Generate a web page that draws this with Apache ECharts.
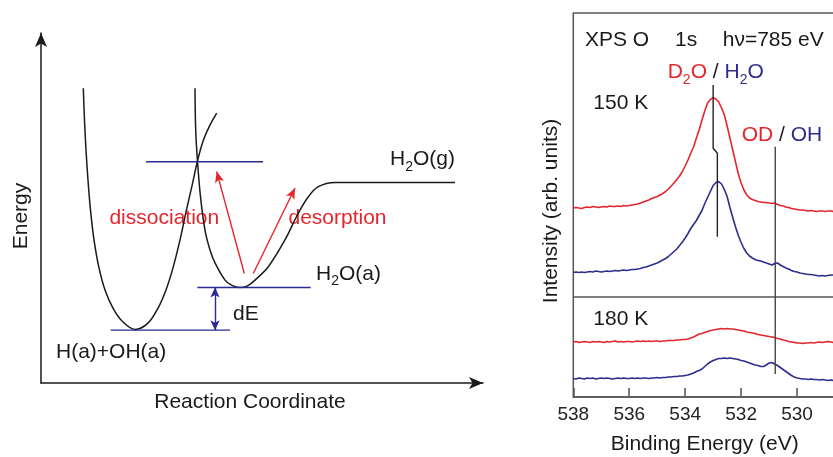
<!DOCTYPE html>
<html><head><meta charset="utf-8">
<script src="https://cdn.jsdelivr.net/npm/echarts@6/dist/echarts.min.js"></script>
<style>html,body{margin:0;padding:0;background:#fff}#c{width:833px;height:457px}</style>
</head><body><div id="c"></div>
<script>
// ---------- Left panel: potential energy diagram (reaction coordinate 0-100, energy 0-100) ----------
const dissocCurve = [[9.57,84.2],[9.84,75.1],[10.18,66.6],[10.63,58.0],[11.20,49.4],[11.99,40.9],[13.12,32.9],[14.48,26.6],[16.29,21.4],[18.33,17.7],[21.27,15.3],[24.21,17.1],[26.47,21.4],[28.28,26.6],[29.86,32.9],[31.45,40.9],[32.81,48.9],[34.16,56.3],[35.36,63.2],[36.65,69.1],[38.12,73.4],[39.75,77.1]];
const molecCurve = [[34.84,84.2],[35.00,72.3],[35.41,63.2],[36.09,53.2],[37.10,43.7],[38.24,38.0],[39.37,34.3],[41.63,29.4],[43.21,27.9],[45.02,27.3],[46.61,27.7],[48.42,29.4],[51.43,33.2],[55.20,40.9],[58.21,48.5],[60.48,53.2],[62.74,56.1],[66.52,57.3],[70.29,57.3],[93.67,57.3]];
const levelTS = [[23.76,63.2],[50.23,63.2]];
const levelH2Oa = [[35.36,27.3],[61.02,27.3]];
const levelOH = [[15.77,15.1],[42.76,15.1]];
const arrowDE = [[39.37,27.3],[39.37,15.1]];
const arrowDissoc = [[46.0,31.3],[39.75,60.4]];
const arrowDesorb = [[48.03,31.3],[57.47,55.7]];

// ---------- Right panel: XPS O 1s spectra ----------
const energies = []; for (let i = 0; i <= 100; i++) energies.push(+(538 - i * 0.1).toFixed(1));
const xTicks = [538, 536, 534, 532, 530];
const red150 = [
0,0.5,0,-0.5,0.5,1,0.5,1.5,1,0.5,
1,1.5,1,2,1.5,1.5,2,1.5,2.5,2,
2.5,3,3.5,4,5,6,7,8,9.5,10.5,
11.5,13,14.5,16.5,19,22,25,28.5,32,36.5,
42,48,55,61,70,78,88,97,105,108.5,
110.3,109,106,100,93,82,70,58,46,34,
25,18,13,10,8.5,7.5,6.5,6,5.5,5.5,
5,4.5,5,3.5,2.5,2,1,0.5,-0.5,-1,
-1.5,-2,-2,-2.5,-3,-2.5,-3,-3.5,-3,-3,
-3.5,-3,-3,-3.5,-3,-3,-3.5,-3,-3,-3.5,
-3];
const blue150 = [
0,0.5,0,0.5,0,0.5,1,0.5,1.5,1,
0.5,1,1.5,1,1.5,2,1.5,2,2.5,2,
2.5,3,3,3.5,4,5,5.5,6.5,7.5,8.5,
9.5,11,12.5,14,16,18.5,21,23.5,27,30.5,
34.5,39,44,48,52,57,62,69,75,81,
87,90,90.8,88.5,83,76,65,55,45.5,37,
30,24,19.5,16.5,14.5,13,12,11.5,10.5,9.5,
8.5,7.5,9,9.5,7.5,6,4.5,3.5,2,1,
0.5,-0.5,-1,-1.5,-2,-2,-2.5,-3,-3.5,-3,
-3.5,-3,-2.5,-2.5,-3,-2.5,-3,-2.5,-3,-2.5,
-3];
const red180 = [
0,0.5,-0.5,0,0.5,0,-0.5,0.5,0,0.5,
0,-0.5,0.5,0,0.5,1,0,0.5,0,0.5,
0.5,0,0.5,1,0.5,1,0.5,1,0.5,1,
1,0.5,1,1,1.5,1.5,1.5,2,2,2.5,
2.5,3,4,5,6.5,8,8.5,9.5,10.5,11.5,
12,12.5,13,13.5,13,13.5,13,13,12.5,12,
11.5,11,10,9.5,9,8.5,7.5,7,6.5,6,
5.5,5,4.5,3.5,3,2,1.5,0.5,0,-0.5,
-1,-1,-1.5,-1,-1,-0.5,-1,-0.5,0,-0.5,
0,0.5,0,-0.5,0,0.5,0,-0.5,0,0.5,
0];
const blue180 = [
0,-0.5,0.5,0,-0.5,0.5,0,0.5,-0.5,0,
0.5,0,0.5,0,-0.5,0,0.5,0,0.5,0,
0,0.5,0,0.5,0,0.5,0.5,0,0.5,0.5,
1,0.5,1,1,1.5,1.5,2,2,2.5,2.5,
3,3.5,4.5,5.5,7,8,9.5,12,14.5,16.5,
18,19,20,20,20.5,20,20.5,20,19.5,19,
18,17.5,16.5,15.5,14.5,13.5,13,12,12,13.5,
15.5,16,14.5,13,11,9,7,5,3,1.5,
0.5,0,-0.5,-0.5,-1,-0.5,-1,-1,-1.5,-1,
-1.5,-2,-1.5,-2,-2.5,-2,-2,-2.5,-2,-2.5,
-2];
const spectrumOffsets = {red150: 189, blue150: 124.5, red180: 55, blue180: 18.5};
const markerMol = [[533.0,312],[533.0,248.7],[532.85,243.7],[532.85,160.3]];
const markerOH = [[530.78,250.3],[530.78,23]];
const panelDivider = [[528,100],[538,100]];

const RED = '#e4262c', BLUE = '#2d2d8e', NAVY = '#2a2a92', BLACK = '#1a1a1a';
const FF = '"Liberation Sans", Arial, Helvetica, sans-serif';

const toXY = (vals, off) => energies.map((e, i) => [e, vals[i] + off]);

const chart = echarts.init(document.getElementById('c'), null, {renderer: 'canvas'});

function sub(color) {
  return {
    n: {fontSize: 21, fontFamily: FF, fill: color, lineHeight: 22, padding: [0,0,4,0], verticalAlign: 'bottom'},
    s: {fontSize: 14, fontFamily: FF, fill: color, lineHeight: 14, verticalAlign: 'bottom'}
  };
}
function txt(x, y, text, opts) {
  opts = opts || {};
  return {
    type: 'text', x: x, y: y, rotation: opts.rotation || 0, silent: true,
    style: {
      text: text, fill: opts.fill || '#1a1a1a',
      font: (opts.size || 21) + 'px ' + FF,
      textAlign: opts.align || 'left', textVerticalAlign: 'middle',
      rich: opts.rich
    }
  };
}
const richColored = {
  r: {fontSize: 21, fontFamily: FF, fill: RED, lineHeight: 22, padding: [0,0,4,0], verticalAlign: 'bottom'},
  rs: {fontSize: 14, fontFamily: FF, fill: RED, lineHeight: 14, verticalAlign: 'bottom'},
  b: {fontSize: 21, fontFamily: FF, fill: BLUE, lineHeight: 22, padding: [0,0,4,0], verticalAlign: 'bottom'},
  bs: {fontSize: 14, fontFamily: FF, fill: BLUE, lineHeight: 14, verticalAlign: 'bottom'},
  k: {fontSize: 21, fontFamily: FF, fill: '#1a1a1a', lineHeight: 22, padding: [0,0,4,0], verticalAlign: 'bottom'}
};

const hiddenAxisBase = {axisTick: {show: false}, axisLabel: {show: false}, splitLine: {show: false}};

const option = {
  animation: false,
  backgroundColor: '#fff',
  grid: [
    {left: 41, top: 33, width: 442, height: 350, outerBoundsMode: 'none', containLabel: false},
    {left: 573.3, top: 13, width: 279.7, height: 384, show: true, borderColor: '#555', borderWidth: 1.5,
      outerBoundsMode: 'none', containLabel: false}
  ],
  xAxis: [
    Object.assign({type: 'value', gridIndex: 0, min: 0, max: 100,
      axisLine: {show: true, onZero: false, symbol: ['none', 'arrow'], symbolSize: [9, 14], lineStyle: {color: BLACK, width: 1.5}}}, hiddenAxisBase),
    {type: 'value', gridIndex: 1, min: 528, max: 538, interval: 2, inverse: true,
      axisLine: {show: true, onZero: false, lineStyle: {color: '#555', width: 1.5}},
      axisTick: {show: true, inside: true, length: 9, lineStyle: {color: '#555', width: 1.5}},
      axisLabel: {show: true, fontSize: 19, fontFamily: FF, color: '#222', margin: 8,
        formatter: v => xTicks.indexOf(v) >= 0 ? String(v) : ''},
      splitLine: {show: false}}
  ],
  yAxis: [
    Object.assign({type: 'value', gridIndex: 0, min: 0, max: 100,
      axisLine: {show: true, onZero: false, symbol: ['none', 'arrow'], symbolSize: [9, 14], lineStyle: {color: BLACK, width: 1.5}}}, hiddenAxisBase),
    {type: 'value', gridIndex: 1, min: 0, max: 384, show: false}
  ],
  series: [
    {type: 'line', xAxisIndex: 0, yAxisIndex: 0, data: dissocCurve, smooth: 0.35, showSymbol: false, silent: true,
      lineStyle: {color: BLACK, width: 1.5}},
    {type: 'line', xAxisIndex: 0, yAxisIndex: 0, data: molecCurve, smooth: 0.35, showSymbol: false, silent: true,
      lineStyle: {color: BLACK, width: 1.5},
      markLine: {silent: true, symbol: ['none', 'arrow'], symbolSize: [7, 11], label: {show: false},
        lineStyle: {color: RED, width: 1.4, type: 'solid'},
        data: [
          [{coord: arrowDissoc[0]}, {coord: arrowDissoc[1]}],
          [{coord: arrowDesorb[0]}, {coord: arrowDesorb[1]}]
        ]}},
    {type: 'line', xAxisIndex: 0, yAxisIndex: 0, data: levelTS, showSymbol: false, silent: true, lineStyle: {color: NAVY, width: 1.4}},
    {type: 'line', xAxisIndex: 0, yAxisIndex: 0, data: levelH2Oa, showSymbol: false, silent: true, lineStyle: {color: NAVY, width: 1.4},
      markLine: {silent: true, symbol: ['arrow', 'arrow'], symbolSize: [7, 10], label: {show: false},
        lineStyle: {color: NAVY, width: 1.4, type: 'solid'},
        data: [[{coord: arrowDE[0]}, {coord: arrowDE[1]}]]}},
    {type: 'line', xAxisIndex: 0, yAxisIndex: 0, data: levelOH, showSymbol: false, silent: true, lineStyle: {color: NAVY, width: 1.4}},

    {type: 'line', xAxisIndex: 1, yAxisIndex: 1, data: panelDivider, showSymbol: false, silent: true, lineStyle: {color: '#555', width: 1.5}},
    {type: 'line', xAxisIndex: 1, yAxisIndex: 1, data: toXY(red150, spectrumOffsets.red150), showSymbol: false, silent: true, lineStyle: {color: RED, width: 1.6}},
    {type: 'line', xAxisIndex: 1, yAxisIndex: 1, data: toXY(blue150, spectrumOffsets.blue150), showSymbol: false, silent: true, lineStyle: {color: BLUE, width: 1.6}},
    {type: 'line', xAxisIndex: 1, yAxisIndex: 1, data: toXY(red180, spectrumOffsets.red180), showSymbol: false, silent: true, lineStyle: {color: RED, width: 1.6}},
    {type: 'line', xAxisIndex: 1, yAxisIndex: 1, data: toXY(blue180, spectrumOffsets.blue180), showSymbol: false, silent: true, lineStyle: {color: BLUE, width: 1.6}},
    {type: 'line', xAxisIndex: 1, yAxisIndex: 1, data: markerMol, showSymbol: false, silent: true, lineStyle: {color: '#222', width: 1.4}},
    {type: 'line', xAxisIndex: 1, yAxisIndex: 1, data: markerOH, showSymbol: false, silent: true, lineStyle: {color: '#444', width: 1.4}}
  ],
  graphic: [
    txt(21, 216, 'Energy', {align: 'center', rotation: Math.PI / 2}),
    txt(250, 402.5, 'Reaction Coordinate', {align: 'center'}),
    txt(164.3, 218, 'dissociation', {align: 'center', fill: RED}),
    txt(337.5, 218, 'desorption', {align: 'center', fill: RED}),
    txt(390, 163, '{n|H}{s|2}{n|O(g)}', {rich: sub('#1a1a1a')}),
    txt(316, 277.5, '{n|H}{s|2}{n|O(a)}', {rich: sub('#1a1a1a')}),
    txt(233, 314, 'dE'),
    txt(56, 352, 'H(a)+OH(a)'),
    txt(551, 211, 'Intensity (arb. units)', {align: 'center', rotation: Math.PI / 2}),
    txt(704.7, 444, 'Binding Energy (eV)', {align: 'center'}),
    txt(585, 40, 'XPS O'),
    txt(675, 40, '1s'),
    txt(722.7, 40, 'hν=785 eV'),
    txt(667.7, 76, '{r|D}{rs|2}{r|O}{k| / }{b|H}{bs|2}{b|O}', {rich: richColored}),
    txt(593.3, 103, '150 K'),
    txt(741.7, 139, '{r|OD}{k| / }{b|OH}', {rich: richColored}),
    txt(593.3, 319, '180 K')
  ]
};
chart.setOption(option);
</script></body></html>
